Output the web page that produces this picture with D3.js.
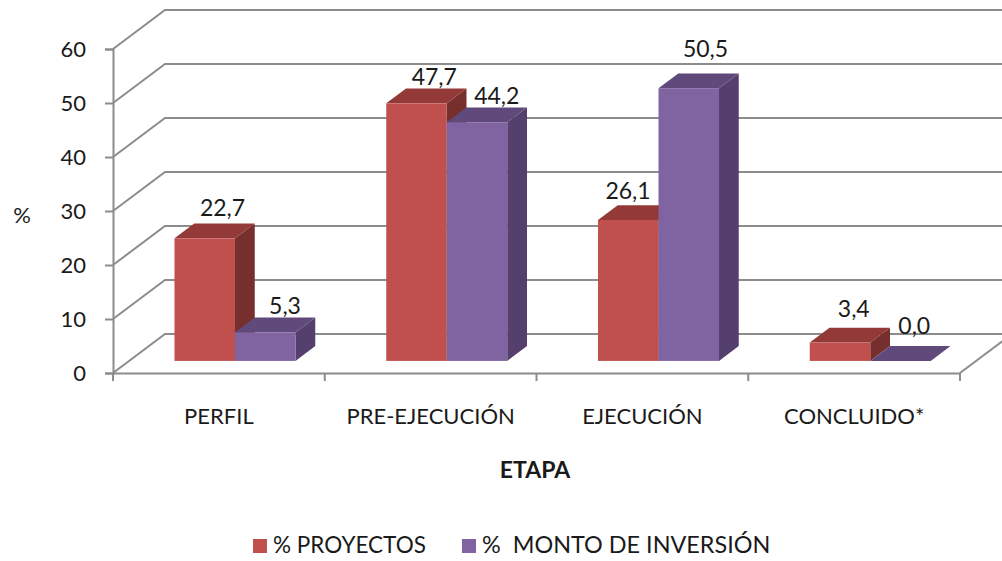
<!DOCTYPE html>
<html>
<head>
<meta charset="utf-8">
<script src="https://d3js.org/d3.v7.min.js"></script>
<style>
    html, body { margin: 0; padding: 0; background: #fff; overflow: hidden; }
    text { font-family: Lato, "Open Sans", sans-serif; fill: #1a1a1a; }
</style>
</head>
<body>
<div id="chart"></div>
<script>
const etapas = ["PERFIL", "PRE-EJECUCIÓN", "EJECUCIÓN", "CONCLUIDO*"];
const seriesNames = ["% PROYECTOS", "%  MONTO DE INVERSIÓN"];
const proyectos = [22.7, 47.7, 26.1, 3.4];
const inversion = [5.3, 44.2, 50.5, 0.0];
const yTicks = [0, 10, 20, 30, 40, 50, 60];

const colors = [
    { front: "#c0504d", top: "#933a38", side: "#772f2d" },
    { front: "#8064a2", top: "#604a7b", side: "#553f6d" }
];
// where each value label sits relative to the top of its bar
const labelNudge = [
    [[-2, -8], [0, -3]],
    [[-2, -4], [0, -3]],
    [[-20, -6], [-3, -16]],
    [[-6, -11], [-6, -12]]
];

function init() {
    const width = 1002, height = 561;
    const left = 113, right = 960, bottom = 373, top = 49;

    const svg = d3.select("#chart").append("svg")
        .attr("width", width)
        .attr("height", height)
        .style("display", "block");

    const x0 = d3.scaleBand().domain(etapas).range([left, right]);
    const x1 = d3.scaleBand().domain([0, 1]).range([0, x0.bandwidth()]).paddingOuter(0.75);
    const y = d3.scaleLinear().domain([0, 60]).range([bottom, top]);

    // depth of the 3D box: 0 is the front edge of the floor, 1 the back wall
    const depthX = d3.scaleLinear().domain([0, 1]).range([0, 52]);
    const depthY = d3.scaleLinear().domain([0, 1]).range([0, -39]);
    const near = 0.31, far = 0.69;

    const grey = "#8c8c8c";

    // back wall lines and their diagonals on the side wall
    const grid = svg.append("g").attr("fill", "none").attr("stroke", grey).attr("stroke-width", 2);
    yTicks.forEach(function (t) {
        grid.append("path").attr("d", d3.line()([
            [left, y(t)],
            [left + depthX(1), y(t) + depthY(1)],
            [right + depthX(1), y(t) + depthY(1)]
        ]));
    });
    // floor edge on the right
    grid.append("path").attr("d", d3.line()([
        [right, y(0)],
        [right + depthX(1), y(0) + depthY(1)]
    ]));

    // Add Y axis
    const yAxis = svg.append("g")
        .attr("transform", "translate(" + left + ",0)")
        .call(d3.axisLeft(y).tickValues(yTicks).tickSize(8).tickPadding(19));
    // Add x Axis
    const xAxis = svg.append("g")
        .attr("transform", "translate(0," + bottom + ")")
        .call(d3.axisBottom(x0).tickSize(0).tickPadding(43));
    xAxis.selectAll(".tick text").attr("dy", "0.35em");
    // tick marks fall between the categories
    xAxis.selectAll(".edge")
        .data(d3.range(etapas.length + 1))
        .join("line")
        .attr("class", "edge")
        .attr("x1", d => left + d * x0.step())
        .attr("x2", d => left + d * x0.step())
        .attr("y1", 0)
        .attr("y2", 8)
        .attr("stroke", grey)
        .attr("stroke-width", 2);

    [yAxis, xAxis].forEach(function (axis) {
        axis.selectAll(".domain, .tick line")
            .attr("stroke", grey)
            .attr("stroke-width", 2);
        axis.selectAll("text")
            .style("font-size", "22px")
            .attr("fill", "#1a1a1a");
    });

    // bars, red first so the purple top covers the foot of the red side
    [proyectos, inversion].forEach(function (values, s) {
        const g = svg.append("g");
        values.forEach(function (v, i) {
            const xa = x0(etapas[i]) + x1(s) + depthX(near);
            const xb = xa + x1.bandwidth();
            const dx = depthX(far) - depthX(near);
            const dy = depthY(far) - depthY(near);
            const base = y(0) + depthY(near);
            const yt = y(v) + depthY(near);

            g.append("path").attr("fill", colors[s].side).attr("d", d3.line()([
                [xb, yt], [xb + dx, yt + dy], [xb + dx, base + dy], [xb, base]
            ]));
            g.append("path").attr("fill", colors[s].top).attr("d", d3.line()([
                [xa, yt], [xa + dx, yt + dy], [xb + dx, yt + dy], [xb, yt]
            ]));
            g.append("rect")
                .attr("x", xa).attr("y", yt)
                .attr("width", xb - xa).attr("height", base - yt)
                .attr("fill", colors[s].front);

            svg.append("text")
                .attr("class", "value")
                .attr("x", (xa + xb) / 2 + dx + labelNudge[i][s][0])
                .attr("y", yt + dy + labelNudge[i][s][1])
                .attr("text-anchor", "middle")
                .style("font-size", "23px")
                .text(v.toFixed(1).replace(".", ","));
        });
    });
    // labels stay above every bar
    svg.selectAll("text.value").raise();

    svg.append("text")
        .attr("x", 22).attr("y", 223)
        .attr("text-anchor", "middle")
        .style("font-size", "22px")
        .text("%");

    svg.append("text")
        .attr("x", 535).attr("y", 478)
        .attr("text-anchor", "middle")
        .style("font-size", "23px")
        .style("font-weight", "bold")
        .text("ETAPA");

    // legend
    const legendX = [253, 462];
    const legendSize = [22.5, 23.4];
    const legend = svg.selectAll(".legend")
        .data(seriesNames)
        .join("g")
        .attr("class", "legend")
        .attr("transform", (d, i) => "translate(" + legendX[i] + ",539)");
    legend.append("rect")
        .attr("width", 14).attr("height", 14)
        .attr("fill", (d, i) => colors[i].front);
    legend.append("text")
        .attr("x", 20).attr("y", 14)
        .style("font-size", (d, i) => legendSize[i] + "px")
        .style("white-space", "pre")
        .text(d => d);
}

window.addEventListener('load', init);
</script>
</body>
</html>
